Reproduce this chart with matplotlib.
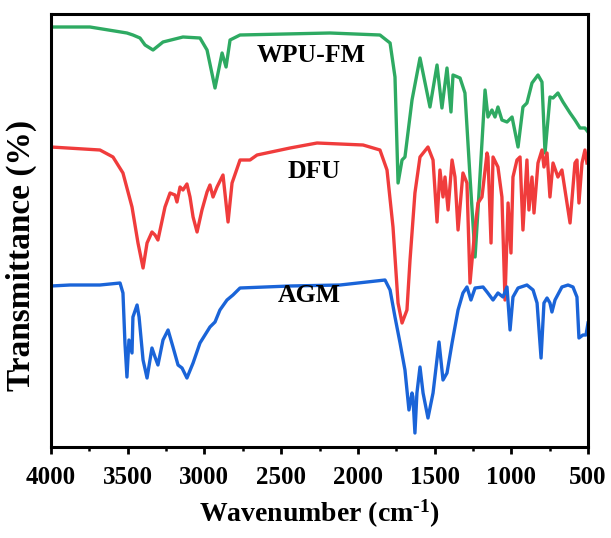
import matplotlib
matplotlib.use("Agg")
import matplotlib.pyplot as plt
from matplotlib.ticker import MultipleLocator

# ---- data (wavenumber, transmittance in arbitrary offset units) ----
wpu_wn = [4000, 3746, 3505, 3466, 3420, 3387, 3335, 3270, 3140, 3029, 2983, 2931,
          2885, 2859, 2833, 2768, 2182, 1856, 1790, 1758, 1738, 1712, 1693, 1647,
          1595, 1530, 1484, 1452, 1419, 1393, 1380, 1334, 1302, 1269, 1236, 1217,
          1171, 1152, 1126, 1106, 1087, 1061, 1028, 995, 956, 924, 898, 865, 826,
          800, 780, 748, 728, 696, 663, 617, 585, 552, 520, 500]
wpu_t = [420, 420, 414, 412, 409, 402, 397, 405, 410, 409, 397, 359,
         394, 380, 407, 412, 414, 412, 404, 370, 264, 287, 290, 347,
         389, 340, 382, 339, 379, 335, 372, 369, 354, 270, 190, 237,
         357, 330, 337, 330, 340, 327, 325, 330, 300, 340, 344, 364, 372,
         365, 294, 350, 349, 354, 345, 334, 327, 319, 319, 315]

dfu_wn = [4000, 3681, 3596, 3531, 3472, 3433, 3400, 3374, 3342, 3322, 3303, 3257,
          3224, 3192, 3179, 3159, 3140, 3114, 3094, 3074, 3048, 3016, 2983, 2964,
          2944, 2918, 2879, 2846, 2820, 2768, 2703, 2657, 2442, 2266, 2116, 1966,
          1856, 1810, 1771, 1738, 1712, 1680, 1660, 1628, 1595, 1543, 1510, 1484,
          1465, 1445, 1432, 1412, 1386, 1367, 1347, 1315, 1289, 1269, 1236, 1217,
          1191, 1158, 1152, 1132, 1119, 1087, 1061, 1041, 1021, 1002, 989, 963,
          943, 924, 898, 885, 865, 852, 826, 800, 787, 767, 748, 728, 696, 670,
          650, 617, 585, 572, 559, 539, 520, 507]
dfu_t = [300, 297, 290, 274, 240, 204, 179, 204, 215, 212, 207, 240,
         254, 252, 245, 260, 257, 263, 250, 230, 215, 237, 255, 262,
         250, 260, 272, 225, 264, 287, 287, 292, 299, 304, 303, 302,
         297, 277, 220, 144, 124, 137, 187, 254, 290, 300, 287, 225,
         277, 250, 270, 237, 287, 270, 217, 274, 264, 164, 220, 244,
         250, 294, 290, 204, 290, 280, 250, 147, 244, 194, 270, 287,
         290, 217, 287, 237, 270, 234, 284, 297, 280, 294, 250, 284, 270, 277,
         257, 224, 284, 287, 244, 284, 297, 284]

agm_wn = [4000, 3876, 3681, 3550, 3531, 3518, 3505, 3492, 3472, 3466, 3439, 3426,
          3400, 3374, 3342, 3322, 3303, 3270, 3237, 3205, 3172, 3146, 3114, 3074,
          3029, 2964, 2931, 2899, 2853, 2814, 2768, 2442, 2116, 1823, 1790, 1758,
          1725, 1693, 1667, 1647, 1641, 1628, 1615, 1595, 1575, 1543, 1510, 1471,
          1445, 1419, 1386, 1347, 1315, 1289, 1263, 1236, 1184, 1158, 1119, 1087,
          1054, 1028, 1008, 989, 956, 898, 858, 832, 806, 787, 767, 748, 735, 715,
          670, 630, 598, 572, 559, 533, 513, 500]
agm_t = [161, 162, 162, 164, 154, 104, 70, 107, 94, 130, 142, 130,
         87, 69, 99, 90, 82, 107, 117, 100, 82, 79, 69, 84,
         104, 120, 125, 137, 147, 152, 159, 161, 162, 167, 157, 130,
         104, 77, 37, 54, 50, 14, 54, 80, 54, 29, 54, 105,
         67, 74, 104, 137, 154, 160, 147, 159, 160, 155, 147, 154,
         150, 160, 117, 150, 159, 162, 157, 144, 89, 144, 149, 144, 135, 147,
         160, 162, 160, 150, 109, 112, 112, 124]

labels = ["WPU-FM", "DFU", "AGM"]
colors = ["#2eaa62", "#f03c3c", "#1a64d8"]
xticks = [4000, 3500, 3000, 2500, 2000, 1500, 1000, 500]

plt.rcParams['font.family'] = ['Liberation Serif', 'DejaVu Serif']
plt.rcParams['font.weight'] = 'bold'
plt.rcParams['mathtext.fontset'] = 'custom'
plt.rcParams['mathtext.rm'] = 'Liberation Serif:bold'
plt.rcParams['mathtext.bf'] = 'Liberation Serif:bold'
plt.rcParams['mathtext.default'] = 'bf'

fig = plt.figure(figsize=(6.11, 5.38), dpi=100)
ax = fig.add_axes([51/611, 1-447/538, (588-51)/611, (447-14)/538])

series = [(wpu_wn, wpu_t), (dfu_wn, dfu_t), (agm_wn, agm_t)]
for (wn, t), c in zip(series, colors):
    ax.plot(wn, t, color=c, lw=2.4, solid_joinstyle='round')

ax.set_xlim(4000, 500)
ax.set_ylim(0, 433)
ax.set_xticks(xticks)
ax.set_xticklabels([str(v) for v in xticks])
ax.xaxis.set_minor_locator(MultipleLocator(250))
ax.tick_params(axis='x', which='major', direction='out', length=5, width=2,
               labelsize=18, pad=9)
ax.tick_params(axis='x', which='minor', direction='out', length=3, width=1.8)
ax.set_yticks([])
for s in ax.spines.values():
    s.set_linewidth(2.2)

ax.set_xlabel(r"Wavenumber (cm$^{\text{-}1}$)", fontsize=20, fontweight='bold', labelpad=6)
ax.set_ylabel("Transmittance (%)", fontsize=24, fontweight='bold')
ax.yaxis.set_label_coords(-0.027, 0.443)

# curve labels
label_pos = [(2305, 392), (2283, 275), (2318, 151)]
for (x, y), lab in zip(label_pos, labels):
    ax.text(x, y, lab, fontsize=18.5, fontweight='bold', ha='center', va='center')

fig.savefig("out.png", dpi=100)
